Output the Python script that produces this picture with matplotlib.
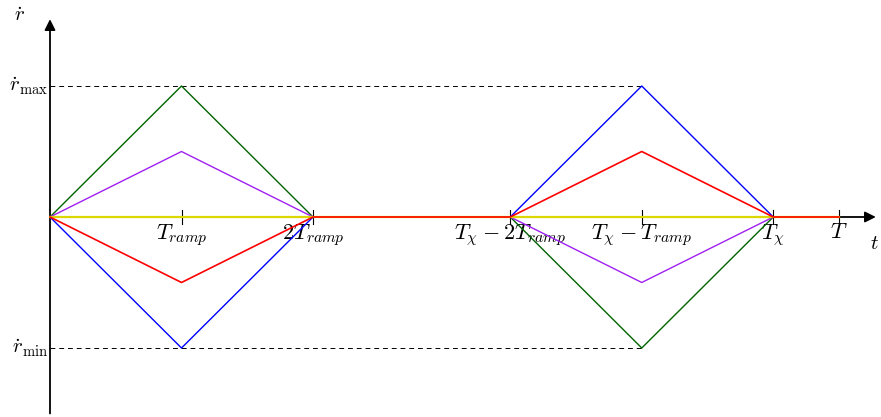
import matplotlib.pyplot as plt

plt.rcParams['mathtext.fontset'] = 'cm'

# time knots in units of T_ramp
t = [0, 1, 2, 3.5, 4.5, 5.5, 6.0]
tick_pos = [1, 2, 3.5, 4.5, 5.5, 6.0]
tick_labels = [r'$T_{ramp}$', r'$2T_{ramp}$', r'$T_\chi-2T_{ramp}$',
               r'$T_\chi-T_{ramp}$', r'$T_\chi$', r'$T$']

r_green = [0, 1, 0, 0, -1, 0, 0]
r_purple = [0, 0.5, 0, 0, -0.5, 0, 0]
r_blue = [0, -1, 0, 0, 1, 0, 0]
r_yellow = [0, 0, 0, 0, 0, 0, 0]
r_red = [0, -0.5, 0, 0, 0.5, 0, 0]

r_max = 1
r_min = -1

fig = plt.figure(figsize=(8.81, 4.17), dpi=100)
ax = fig.add_axes([0, 0, 1, 1])
ax.set_xlim(-50 / 131.5, 831 / 131.5)
ax.set_ylim(-200 / 131, 217 / 131)
ax.axis('off')

# axes with arrows
ax.annotate('', xy=(6.28, 0), xytext=(0, 0), zorder=1,
            arrowprops=dict(arrowstyle='-|>', lw=1.3, color='k', mutation_scale=16, shrinkA=0, shrinkB=0))
ax.annotate('', xy=(0, 1.51), xytext=(0, -1.5), zorder=1,
            arrowprops=dict(arrowstyle='-|>', lw=1.3, color='k', mutation_scale=16, shrinkA=0, shrinkB=0))

# dashed reference lines
ax.plot([0, 4.5], [r_max, r_max], color='k', lw=0.7, dashes=(5, 4))
ax.plot([0, 4.5], [r_min, r_min], color='k', lw=0.7, dashes=(5, 4))

# ticks
for x, lab in zip(tick_pos, tick_labels):
    ax.plot([x, x], [-0.055, 0.055], color='k', lw=0.8, zorder=2)
    ax.text(x, -0.035, lab, ha='center', va='top', fontsize=16)

ax.plot(t, r_green, color='#006400', lw=1.0, zorder=3)
ax.plot(t, r_purple, color='#a020f0', lw=1.0, zorder=3)
ax.plot(t, r_blue, color='#0000ff', lw=1.0, zorder=3)
ax.plot(t, r_yellow, color='#dcd700', lw=1.6, zorder=3)
ax.plot(t, r_red, color='#ff0000', lw=1.2, zorder=3)

ax.text(-0.01, r_max, r'$\dot r_{\max}$', ha='right', va='center', fontsize=15)
ax.text(-0.01, r_min, r'$\dot r_{\min}$', ha='right', va='center', fontsize=15)
ax.text(-0.23, 1.54, r'$\dot r$', ha='center', va='center', fontsize=15)
ax.text(6.27, -0.2, r'$t$', ha='center', va='center', fontsize=15)

fig.savefig('out.png', dpi=100)
